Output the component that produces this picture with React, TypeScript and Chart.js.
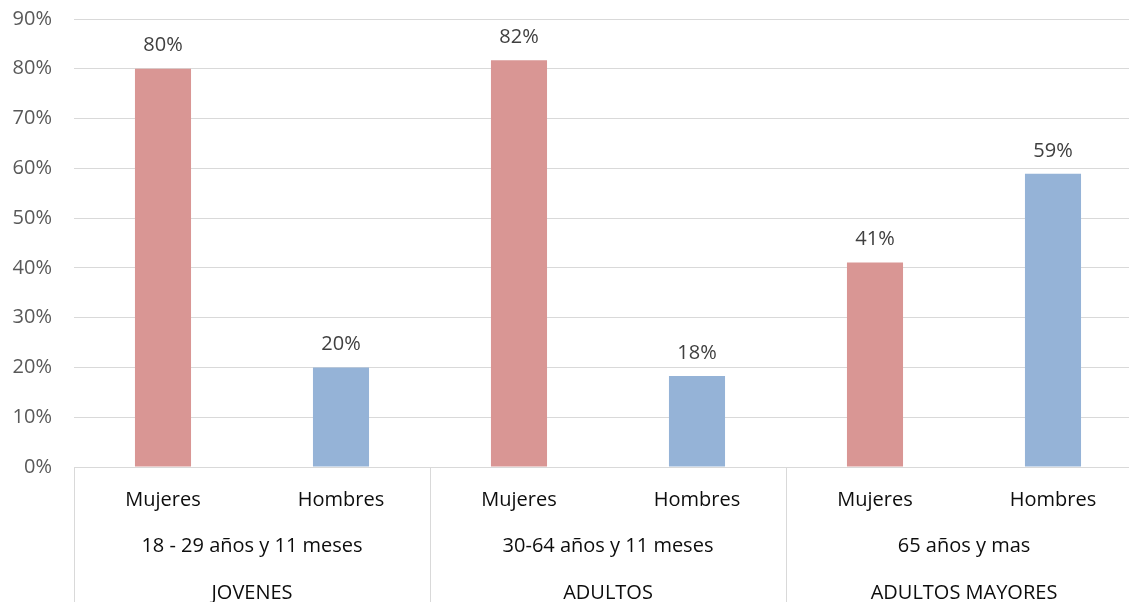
import React, { useEffect, useRef } from "react";
import { Chart, registerables } from "chart.js";

Chart.register(...registerables);

const categories = ["Mujeres", "Hombres", "Mujeres", "Hombres", "Mujeres", "Hombres"];
const ageRanges = ["18 - 29 años y 11 meses", "30-64 años y 11 meses", "65 años y mas"];
const groups = ["JOVENES", "ADULTOS", "ADULTOS MAYORES"];
const values = [0.8, 0.2, 0.817, 0.183, 0.411, 0.589];
const yMax = 0.9;
const yStep = 0.1;

const PINK = "#D99694";
const BLUE = "#95B3D7";
const FONT = "'Open Sans', sans-serif";

const multiLevelPlugin = {
  id: "multiLevel",
  afterDraw(chart: any) {
    const { ctx, chartArea } = chart;
    const x = chart.scales.x;
    const bottom = chart.height;
    const n = categories.length;
    const per = n / groups.length;
    ctx.save();
    // separators
    ctx.strokeStyle = "#d9d9d9";
    ctx.lineWidth = 1;
    const bounds: number[] = [];
    for (let g = 0; g <= groups.length; g++) {
      let px: number;
      if (g === 0) px = chartArea.left;
      else if (g === groups.length) px = chartArea.right;
      else px = (x.getPixelForValue(g * per - 1) + x.getPixelForValue(g * per)) / 2;
      bounds.push(px);
      ctx.beginPath();
      ctx.moveTo(Math.round(px) + 0.5, chartArea.bottom);
      ctx.lineTo(Math.round(px) + 0.5, bottom);
      ctx.stroke();
    }
    // category labels
    ctx.fillStyle = "#0d0d0d";
    ctx.font = `20px ${FONT}`;
    ctx.textAlign = "center";
    ctx.textBaseline = "middle";
    categories.forEach((c, i) => {
      ctx.fillText(c, x.getPixelForValue(i), chartArea.bottom + 33);
    });
    ageRanges.forEach((a, g) => {
      ctx.fillText(a, (bounds[g] + bounds[g + 1]) / 2, chartArea.bottom + 79);
    });
    groups.forEach((a, g) => {
      ctx.fillText(a, (bounds[g] + bounds[g + 1]) / 2, chartArea.bottom + 126);
    });
    // data labels
    const meta = chart.getDatasetMeta(0);
    ctx.fillStyle = "#404040";
    meta.data.forEach((el: any, i: number) => {
      ctx.fillText(Math.round(values[i] * 100) + "%", el.x, el.y - 23);
    });
    ctx.restore();
  },
};

export default function App() {
  const ref = useRef<HTMLCanvasElement>(null);
  useEffect(() => {
    if (!ref.current) return;
    const chart = new Chart(ref.current, {
      type: "bar",
      data: {
        labels: categories,
        datasets: [
          {
            data: values,
            backgroundColor: categories.map((c) => (c === "Mujeres" ? PINK : BLUE)),
            borderWidth: 0,
            barPercentage: 0.315,
            categoryPercentage: 1,
          },
        ],
      },
      options: {
        animation: false,
        responsive: false,
        devicePixelRatio: 1,
        layout: { padding: { top: 19, left: 0, right: 0, bottom: 0 } },
        plugins: { legend: { display: false }, tooltip: { enabled: false } },
        scales: {
          x: {
            grid: { display: false },
            border: { display: false },
            ticks: { display: false },
            afterFit(scale: any) {
              scale.height = 135;
              scale.paddingLeft = 0;
              scale.paddingRight = 0;
            },
          },
          y: {
            min: 0,
            max: yMax,
            grid: { color: "#d9d9d9", lineWidth: 1, drawTicks: false },
            border: { display: false },
            ticks: {
              stepSize: yStep,
              padding: 22,
              color: "#595959",
              font: { family: FONT, size: 20 },
              callback: (v: any) => Math.round(Number(v) * 100) + "%",
            },
            afterFit(scale: any) {
              scale.width = 74;
              scale.paddingTop = 0;
              scale.paddingBottom = 0;
            },
          },
        },
      },
      plugins: [multiLevelPlugin],
    });
    return () => chart.destroy();
  }, []);
  return (
    <div style={{ position: "absolute", left: 0, top: 0, width: 1129, height: 602, overflow: "hidden", background: "#fff" }}>
      <canvas ref={ref} width={1142} height={602} style={{ display: "block" }} />
    </div>
  );
}
